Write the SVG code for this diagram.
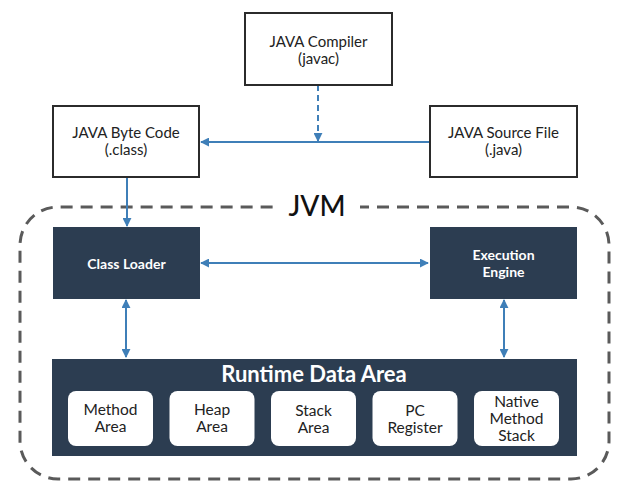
<svg xmlns="http://www.w3.org/2000/svg" width="632" height="492" viewBox="0 0 632 492">
  <style>
    text { font-family: Lato, "Liberation Sans", sans-serif; text-anchor: middle; }
    .file { fill: #ffffff; stroke: #2b2b2b; stroke-width: 2; }
    .file-label { font-size: 15px; fill: #222222; }
    .dark { fill: #2c3d51; }
    .dark-label { font-size: 14px; font-weight: bold; fill: #ffffff; }
    .area { fill: #ffffff; }
    .area-label { font-size: 15.5px; fill: #222222; }
    .link { stroke: #3f7fb8; stroke-width: 2; fill: none; }
    .jvm-border { fill: none; stroke: #5a5a5a; stroke-width: 3; stroke-dasharray: 12 8; }
  </style>
  <defs>
    <marker id="head" viewBox="0 0 10 10" refX="9" refY="5" markerWidth="4.5" markerHeight="4.5" orient="auto-start-reverse">
      <path d="M0,0 L10,5 L0,10 z" fill="#3f7fb8"/>
    </marker>
  </defs>

  <rect width="632" height="492" fill="#ffffff"/>

  <!-- JVM boundary -->
  <g id="jvm">
    <path class="jvm-border" d="M277,207 H571 A38,38 0 0 1 609,245 V441 A38,38 0 0 1 571,479 H58 A38,38 0 0 1 20,441 V245 A38,38 0 0 1 58,207 H362"/>
    <rect x="276" y="195" width="84" height="26" fill="#ffffff"/>
    <text x="317" y="216" font-size="28px" font-weight="500" fill="#111111">JVM</text>
  </g>

  <!-- connectors -->
  <g id="connectors">
    <line class="link" x1="430" y1="142" x2="201" y2="142" marker-end="url(#head)"/>
    <line class="link" x1="318" y1="85" x2="318" y2="141" stroke-dasharray="6 4" marker-end="url(#head)"/>
    <line class="link" x1="127" y1="177" x2="127" y2="226" marker-end="url(#head)"/>
    <line class="link" x1="201" y1="263" x2="428" y2="263" marker-start="url(#head)" marker-end="url(#head)"/>
    <line class="link" x1="126" y1="300" x2="126" y2="357" marker-start="url(#head)" marker-end="url(#head)"/>
    <line class="link" x1="504" y1="300" x2="504" y2="357" marker-start="url(#head)" marker-end="url(#head)"/>
  </g>

  <g id="compiler">
    <rect class="file" x="245" y="13" width="147" height="72"/>
    <text class="file-label" x="318.5" y="47">JAVA Compiler</text>
    <text class="file-label" x="318.5" y="64">(javac)</text>
  </g>

  <g id="byte-code">
    <rect class="file" x="53" y="106" width="146" height="71"/>
    <text class="file-label" x="126" y="138">JAVA Byte Code</text>
    <text class="file-label" x="126" y="155">(.class)</text>
  </g>

  <g id="source-file">
    <rect class="file" x="430" y="106" width="147" height="71"/>
    <text class="file-label" x="503.5" y="138">JAVA Source File</text>
    <text class="file-label" x="503.5" y="155">(.java)</text>
  </g>

  <g id="class-loader">
    <rect class="dark" x="53" y="227" width="147" height="72"/>
    <text class="dark-label" x="126.5" y="269">Class Loader</text>
  </g>

  <g id="execution-engine">
    <rect class="dark" x="430" y="227" width="147" height="72"/>
    <text class="dark-label" x="503.5" y="260">Execution</text>
    <text class="dark-label" x="503.5" y="277">Engine</text>
  </g>

  <g id="runtime-data-area">
    <rect class="dark" x="52" y="359" width="525" height="97"/>
    <text x="314" y="382" font-size="22px" font-weight="bold" fill="#ffffff">Runtime Data Area</text>

    <g id="method-area">
      <rect class="area" x="68" y="391" width="85" height="55" rx="8"/>
      <text class="area-label" x="110.5" y="415">Method</text>
      <text class="area-label" x="110.5" y="432">Area</text>
    </g>
    <g id="heap-area">
      <rect class="area" x="169.5" y="391" width="85" height="55" rx="8"/>
      <text class="area-label" x="212" y="415">Heap</text>
      <text class="area-label" x="212" y="432">Area</text>
    </g>
    <g id="stack-area">
      <rect class="area" x="271" y="391" width="85" height="55" rx="8"/>
      <text class="area-label" x="313.5" y="416">Stack</text>
      <text class="area-label" x="313.5" y="433">Area</text>
    </g>
    <g id="pc-register">
      <rect class="area" x="372.5" y="391" width="85" height="55" rx="8"/>
      <text class="area-label" x="415" y="416">PC</text>
      <text class="area-label" x="415" y="433">Register</text>
    </g>
    <g id="native-method-stack">
      <rect class="area" x="474" y="391" width="85" height="55" rx="8"/>
      <text class="area-label" x="516.5" y="407">Native</text>
      <text class="area-label" x="516.5" y="424">Method</text>
      <text class="area-label" x="516.5" y="441">Stack</text>
    </g>
  </g>
</svg>
